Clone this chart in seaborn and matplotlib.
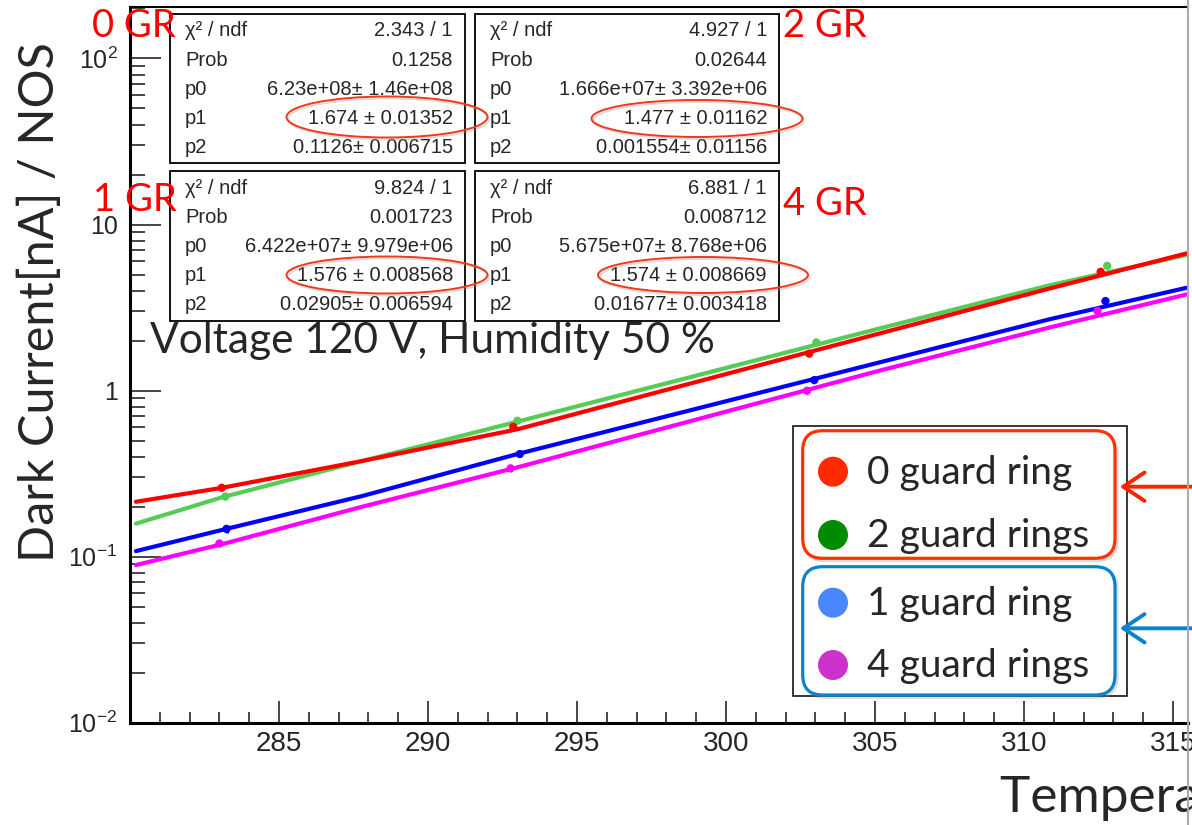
import matplotlib
matplotlib.use("Agg")
import matplotlib.pyplot as plt
import seaborn as sns
import pandas as pd
from matplotlib.patches import Rectangle, Ellipse, FancyBboxPatch, FancyArrowPatch, Circle
from matplotlib.lines import Line2D
from matplotlib.ticker import MultipleLocator, LogLocator, NullFormatter, FixedLocator, FixedFormatter

# ---- measured dark current (per NOS) vs temperature ----
temp_0gr = [283.08, 292.86, 302.79, 312.57]
curr_0gr = [0.260, 0.605, 1.67, 5.19]
err_0gr = [0.008, 0.035, 0.05, 0.12]

temp_2gr = [283.20, 293.00, 303.03, 312.79]
curr_2gr = [0.230, 0.658, 1.95, 5.64]
err_2gr = [0.006, 0.02, 0.06, 0.25]

temp_1gr = [283.24, 293.08, 302.96, 312.73]
curr_1gr = [0.147, 0.415, 1.156, 3.46]
err_1gr = [0.008, 0.012, 0.03, 0.08]

temp_4gr = [283.00, 292.77, 302.72, 312.46]
curr_4gr = [0.120, 0.340, 0.998, 3.02]
err_4gr = [0.004, 0.01, 0.03, 0.08]

# ---- fitted curves, sampled along the fit range ----
fit_temp = [280.2, 283.1, 287.8, 293.0, 305.16, 310.86, 315.45]
fit_0gr = [0.214, 0.260, 0.377, 0.585, 2.21, 4.12, 6.70]
fit_2gr = [0.158, 0.228, 0.377, 0.650, 2.37, 4.31, 6.55]
fit_1gr = [0.108, 0.145, 0.232, 0.415, 1.48, 2.69, 4.16]
fit_4gr = [0.089, 0.119, 0.200, 0.345, 1.32, 2.40, 3.79]

# ---- fit statistics ----
stat_names = ["χ² / ndf", "Prob", "p0", "p1", "p2"]
stats_0gr = ["2.343 / 1", "0.1258", "6.23e+08± 1.46e+08", "1.674 ± 0.01352", "0.1126± 0.006715"]
stats_2gr = ["4.927 / 1", "0.02644", "1.666e+07± 3.392e+06", "1.477 ± 0.01162", "0.001554± 0.01156"]
stats_1gr = ["9.824 / 1", "0.001723", "6.422e+07± 9.979e+06", "1.576 ± 0.008568", "0.02905± 0.006594"]
stats_4gr = ["6.881 / 1", "0.008712", "5.675e+07± 8.768e+06", "1.574 ± 0.008669", "0.01677± 0.003418"]
gr_tags = ["0 GR", "2 GR", "1 GR", "4 GR"]

legend_labels = ["0 guard ring", "2 guard rings", "1 guard ring", "4 guard rings"]
x_ticks = [285, 290, 295, 300, 305, 310, 315]
y_ticks = [0.01, 0.1, 1, 10, 100]
y_tick_labels = ["$10^{-2}$", "$10^{-1}$", "1", "10", "$10^{2}$"]

sns.set_style("ticks")
plt.rcParams["font.family"] = ["Liberation Sans", "DejaVu Sans"]
plt.rcParams["mathtext.fontset"] = "custom"
plt.rcParams["mathtext.rm"] = "Liberation Sans"
plt.rcParams["mathtext.it"] = "Liberation Sans:italic"
plt.rcParams["mathtext.bf"] = "Liberation Sans:bold"

W, H, DPI = 1192, 825, 100
fig = plt.figure(figsize=(W / DPI, H / DPI), dpi=DPI)
TR = fig.dpi_scale_trans


def px(x, y):
    return (x / DPI, (H - y) / DPI)


ax_l, ax_r, ax_t, ax_b = 130, 1188, 6.7, 722.7
ax = fig.add_axes([ax_l / W, 1 - ax_b / H, (ax_r - ax_l) / W, (ax_b - ax_t) / H])

line_colors = ["#ff0000", "#55cc55", "#0000ff", "#ff00ff"]
series = [
    (temp_2gr, curr_2gr, err_2gr, fit_2gr, line_colors[1]),
    (temp_0gr, curr_0gr, err_0gr, fit_0gr, line_colors[0]),
    (temp_4gr, curr_4gr, err_4gr, fit_4gr, line_colors[3]),
    (temp_1gr, curr_1gr, err_1gr, fit_1gr, line_colors[2]),
]
for t, c, e, f, col in series:
    sns.lineplot(x=fit_temp, y=f, ax=ax, color=col, lw=3.0, sort=False, zorder=3)
    ax.errorbar(t, c, yerr=e, fmt="none", ecolor=col, elinewidth=2.0, zorder=4)
    sns.scatterplot(x=t, y=c, ax=ax, color=col, s=36, edgecolor="none", zorder=5)

ax.set_yscale("log")
ax.set_xlim(280, 315.5)
ax.set_ylim(0.01, 205)
ax.xaxis.set_major_locator(FixedLocator(x_ticks))
ax.xaxis.set_minor_locator(MultipleLocator(1))
ax.yaxis.set_major_locator(FixedLocator(y_ticks))
ax.yaxis.set_major_formatter(FixedFormatter(y_tick_labels))
ax.yaxis.set_minor_locator(LogLocator(base=10, subs=range(2, 10)))
ax.yaxis.set_minor_formatter(NullFormatter())
ax.tick_params(axis="x", which="major", direction="in", length=15.8, width=1.2,
               labelsize=20, pad=6)
ax.tick_params(axis="x", which="minor", direction="in", length=7.9, width=1.2)
ax.tick_params(axis="y", which="major", direction="in", length=22.3, width=1.2,
               labelsize=18, pad=9)
ax.tick_params(axis="y", which="minor", direction="in", length=10.8, width=1.2)
ax.set_xlabel("")
ax.set_ylabel("")
for side in ["left", "bottom"]:
    ax.spines[side].set_linewidth(2.2)
ax.spines["top"].set_linewidth(1.5)
ax.spines["right"].set_visible(False)
for s in ax.spines.values():
    s.set_color("black")

# axis titles
fig.text(40 / W, 1 - 302 / H, "Dark Current[nA] / NOS", rotation=90, ha="center",
         va="center", fontsize=35, family="Lato")
fig.text(1000 / W, 1 - 811.7 / H, "Temperature [K]", ha="left", va="baseline",
         fontsize=37, family="Lato")

# fit statistics boxes
boxes = [(170, 14, 465, 163), (475, 14, 779, 163), (170, 171, 465, 321), (475, 171, 779, 321)]
all_stats = [stats_0gr, stats_2gr, stats_1gr, stats_4gr]
for (x0, y0, x1, y1), vals in zip(boxes, all_stats):
    fig.add_artist(Rectangle(px(x0, y1), (x1 - x0) / DPI, (y1 - y0) / DPI, transform=TR,
                             fc="white", ec="black", lw=1.3, zorder=5))
    for i, (name, val) in enumerate(zip(stat_names, vals)):
        yy = y0 + 17 + 29.2 * i
        fig.text(*px(x0 + 15, yy), name, transform=TR, ha="left", va="center",
                 fontsize=14.5, zorder=6)
        fig.text(*px(x1 - 12, yy), val, transform=TR, ha="right", va="center",
                 fontsize=14.5, zorder=6)

# red highlights round p1
ellipses = [(387, 117, 201, 41), (697, 118.5, 211, 37), (387, 275, 201, 37), (703, 275, 210, 36)]
for cx, cy, w, h in ellipses:
    fig.add_artist(Ellipse(px(cx + 1.5, cy + 2), w / DPI, h / DPI, transform=TR, fill=False,
                           ec="#999999", lw=1.4, alpha=0.35, zorder=7))
    fig.add_artist(Ellipse(px(cx, cy), w / DPI, h / DPI, transform=TR, fill=False,
                           ec="#ee3a1a", lw=1.4, zorder=8))

# guard-ring tags
tag_pos = [(92, 37), (783, 37), (93, 211), (783, 215)]
for (tx, ty), tag in zip(tag_pos, gr_tags):
    fig.text(*px(tx, ty), tag, transform=TR, ha="left", va="baseline", fontsize=27.5,
             color="#ff0000", family="Lato", zorder=9)

fig.text(*px(150, 353), "Voltage 120 V, Humidity 50 %", transform=TR, ha="left",
         va="baseline", fontsize=30.5, family="Lato", zorder=9)

# legend panel
fig.add_artist(Rectangle(px(793, 695.7), (1127 - 793) / DPI, (695.7 - 426) / DPI, transform=TR,
                         fc="white", ec="black", lw=1.1, zorder=10))
groups = [(430.7, 558.3, "#ff3300"), (566.7, 695.0, "#0a84c8")]
for gy0, gy1, gcol in groups:
    fig.add_artist(FancyBboxPatch(px(804.5, gy1 + 2), (1115 - 802.7) / DPI, (gy1 - gy0) / DPI,
                                  boxstyle="round,pad=0,rounding_size=0.2", transform=TR,
                                  fc="none", ec="#888888", lw=2.5, alpha=0.3, zorder=11))
    fig.add_artist(FancyBboxPatch(px(802.7, gy1), (1115 - 802.7) / DPI, (gy1 - gy0) / DPI,
                                  boxstyle="round,pad=0,rounding_size=0.2", transform=TR,
                                  fc="white", ec=gcol, lw=2.3, zorder=12))
marker_colors = ["#ff2a00", "#008a00", "#4a86ff", "#cc33cc"]
entry_y = [471.7, 535, 602.7, 665]
for yy, col, lab in zip(entry_y, marker_colors, legend_labels):
    fig.add_artist(Circle(px(833, yy), 0.15, transform=TR, fc=col, ec="none", zorder=13))
    fig.text(*px(867, yy + 1), lab, transform=TR, ha="left", va="center", fontsize=28,
             family="Lato", zorder=13)

for ay, acol in [(486.7, "#ff2200"), (628.3, "#0a84c8")]:
    fig.add_artist(FancyArrowPatch(px(1205, ay), px(1117, ay), transform=TR,
                                   arrowstyle="->,head_length=0.9,head_width=0.6",
                                   mutation_scale=17, lw=2.8, color=acol, zorder=13))

fig.add_artist(Line2D([1188 / W, 1188 / W], [0, 1], transform=fig.transFigure,
                      color="#aaaaaa", lw=1.5, zorder=20))

fig.savefig("out.png", dpi=DPI)
